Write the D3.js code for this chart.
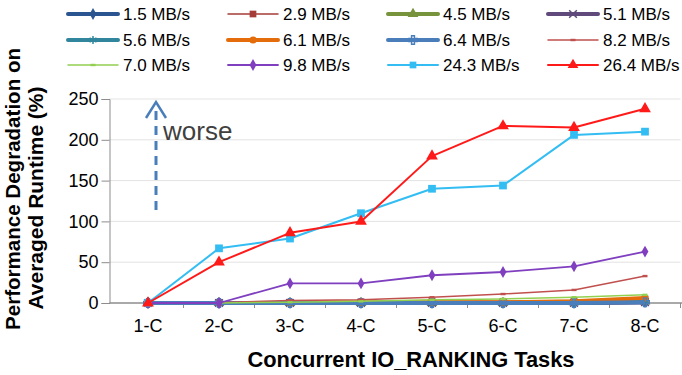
<!DOCTYPE html>
<html>
<head>
<meta charset="utf-8">
<script src="https://cdn.jsdelivr.net/npm/d3@7"></script>
<style>
  html, body { margin: 0; padding: 0; background: #fff; }
  svg { display: block; font-family: "Liberation Sans", Arial, sans-serif; }
</style>
</head>
<body>
<svg id="chart" width="682" height="375"></svg>
<script>
// Categories and tick labels
const categories = ["1-C", "2-C", "3-C", "4-C", "5-C", "6-C", "7-C", "8-C"];
const yTicks = [0, 50, 100, 150, 200, 250];

// Series names (IO bandwidth) and their degradation values (%)
const seriesNames = ["1.5 MB/s", "2.9 MB/s", "4.5 MB/s", "5.1 MB/s",
                     "5.6 MB/s", "6.1 MB/s", "6.4 MB/s", "8.2 MB/s",
                     "7.0 MB/s", "9.8 MB/s", "24.3 MB/s", "26.4 MB/s"];
const s1_5  = [0, 0, 0, 0, 0, 0, 0, 1];
const s2_9  = [0, 0.5, 1, 1.5, 2, 2, 3, 5];
const s4_5  = [0, 0, 0, 0, 0, 0, 1, 2];
const s5_1  = [0, 0, 0, 0, 0, 0, 0, 1];
const s5_6  = [0, 0, 0, 0, 0, 0, 0, 2];
const s6_1  = [0, 0, 0, 1, 1, 1, 2, 6];
const s6_4  = [0, 0, 0, 0, 0, 0, 0, 1];
const s8_2  = [0, 0.5, 3, 4, 7, 11, 16, 33];
const s7_0  = [0, 0, 1, 2, 4, 5, 7, 10];
const s9_8  = [0, 0, 24, 24, 34, 38, 45, 63];
const s24_3 = [0, 67, 79, 110, 140, 144, 206, 210];
const s26_4 = [0, 50, 86, 100, 180, 217, 215, 238];

const seriesValues = [s1_5, s2_9, s4_5, s5_1, s5_6, s6_1, s6_4, s8_2, s7_0, s9_8, s24_3, s26_4];

// Line styling per series
const colors  = ["#2a5590", "#a53c38", "#77933c", "#604a7b", "#31859c", "#e46c0a",
                 "#4a7ebb", "#c0504d", "#92d050", "#7f3fbf", "#33bdf2", "#ff1a1a"];
const widths  = [4, 1.5, 4, 4, 4, 4, 4, 1.5, 1.5, 1.8, 2, 2];
const markers = ["diamond", "square", "triangle", "cross", "star", "circle",
                 "plus", "dash", "dash", "diamond", "square", "triangle"];

const svg = d3.select("#chart");
const W = 682, H = 375;
const margin = { left: 112.5, right: 1.5, top: 99, bottom: 72 };

const x = d3.scaleBand().domain(categories).range([margin.left, W - margin.right]).padding(0);
const y = d3.scaleLinear().domain([0, 250]).range([H - margin.bottom, margin.top]);
const cx = c => x(c) + x.bandwidth() / 2;

// Gridlines
svg.append("g")
  .selectAll("line")
  .data(yTicks.filter(t => t > 0))
  .join("line")
  .attr("x1", margin.left - 3).attr("x2", W - margin.right)
  .attr("y1", d => y(d)).attr("y2", d => y(d))
  .attr("stroke", "#e3e3e3").attr("stroke-width", 1);

// Y axis
const yAxis = svg.append("g")
  .attr("transform", `translate(${margin.left - 3},0)`)
  .call(d3.axisLeft(y).tickValues(yTicks).tickSize(8).tickPadding(3));
yAxis.select(".domain").attr("stroke", "#8c8c8c");
yAxis.selectAll(".tick line").attr("stroke", "#8c8c8c");
yAxis.selectAll("text").attr("font-size", 18).attr("fill", "#000");

// X axis: labels centred in each band, tick marks on band edges
const xAxis = svg.append("g")
  .attr("transform", `translate(0,${y(0)})`)
  .call(d3.axisBottom(x).tickSize(0).tickPadding(16));
xAxis.select(".domain").attr("stroke", "#8c8c8c").attr("stroke-width", 1.5)
  .attr("d", `M${margin.left - 3},0H${W}`);
xAxis.selectAll("text").attr("font-size", 18).attr("fill", "#000");
xAxis.selectAll(".edge")
  .data(categories)
  .join("line")
  .attr("class", "edge")
  .attr("x1", d => x(d) + x.bandwidth())
  .attr("x2", d => x(d) + x.bandwidth())
  .attr("y1", 0).attr("y2", 5)
  .attr("stroke", "#8c8c8c");

// Marker shapes
const symbolFor = {
  diamond: d3.symbolDiamond, square: d3.symbolSquare, triangle: d3.symbolTriangle,
  cross: d3.symbolX, star: d3.symbolAsterisk, circle: d3.symbolCircle,
  plus: d3.symbolCross, dash: null
};
const sizeFor = { diamond: 40, square: 45, triangle: 50, cross: 40, star: 45, circle: 40, plus: 40 };
const isOpen = m => m === "cross" || m === "star" || m === "plus";

function drawMarker(sel, m, color, size) {
  if (m === "dash") {
    sel.append("rect").attr("x", -2.5).attr("y", -1.2).attr("width", 5).attr("height", 2.4)
      .attr("fill", color);
  } else {
    const shape = sel.append("path").attr("d", d3.symbol().type(symbolFor[m]).size(size)());
    if (isOpen(m)) shape.attr("fill", "none").attr("stroke", color).attr("stroke-width", 1.5);
    else shape.attr("fill", color);
  }
}

const line = d3.line().x((d, i) => cx(categories[i])).y(d => y(d));

const plot = svg.append("g");
seriesValues.forEach((vals, si) => {
  const g = plot.append("g");
  g.append("path")
    .attr("d", line(vals))
    .attr("fill", "none")
    .attr("stroke", colors[si])
    .attr("stroke-width", widths[si])
    .attr("stroke-linejoin", "round");
  const m = markers[si];
  const size = (si >= 10) ? 60 : sizeFor[m];
  g.selectAll("g.pt").data(vals).join("g")
    .attr("class", "pt")
    .attr("transform", (d, i) => `translate(${cx(categories[i])},${y(d)})`)
    .each(function () { drawMarker(d3.select(this), m, colors[si], size); });
});

// "worse" direction annotation
const arrowX = 156;
svg.append("line")
  .attr("x1", arrowX).attr("x2", arrowX)
  .attr("y1", 210).attr("y2", 106)
  .attr("stroke", "#4a7ebb").attr("stroke-width", 3)
  .attr("stroke-dasharray", "9,6");
svg.append("path")
  .attr("d", `M${arrowX - 10},${118} L${arrowX},${102} L${arrowX + 10},${118}`)
  .attr("fill", "none").attr("stroke", "#4a7ebb").attr("stroke-width", 2.5);
svg.append("text")
  .attr("x", 163).attr("y", 140)
  .attr("font-size", 26).attr("fill", "#404040")
  .text("worse");

// Axis titles
svg.append("text")
  .attr("x", 411).attr("y", 367)
  .attr("text-anchor", "middle")
  .attr("font-size", 22).attr("font-weight", "bold")
  .attr("textLength", 327).attr("lengthAdjust", "spacingAndGlyphs")
  .text("Concurrent IO_RANKING Tasks");
svg.append("text")
  .attr("transform", `translate(20,189) rotate(-90)`)
  .attr("text-anchor", "middle")
  .attr("font-size", 21).attr("font-weight", "bold")
  .attr("textLength", 282).attr("lengthAdjust", "spacingAndGlyphs")
  .text("Performance Degradation on");
svg.append("text")
  .attr("transform", `translate(43,198) rotate(-90)`)
  .attr("text-anchor", "middle")
  .attr("font-size", 21).attr("font-weight", "bold")
  .attr("textLength", 223).attr("lengthAdjust", "spacingAndGlyphs")
  .text("Averaged Runtime (%)");

// Legend: 4 columns x 3 rows
const legend = svg.append("g");
const colX = [68, 228, 388, 548];
const rowY = [14, 40, 65];
seriesNames.forEach((name, si) => {
  const gx = colX[si % 4], gy = rowY[Math.floor(si / 4)];
  const g = legend.append("g").attr("transform", `translate(${gx},${gy})`);
  g.append("line").attr("x1", 0).attr("x2", 50).attr("y1", 0).attr("y2", 0)
    .attr("stroke", colors[si]).attr("stroke-width", widths[si])
    .attr("stroke-linecap", "round");
  drawMarker(g.append("g").attr("transform", "translate(25,0)"), markers[si], colors[si], sizeFor[markers[si]]);
  g.append("text").attr("x", 55).attr("y", 6)
    .attr("font-size", 17).attr("fill", "#000")
    .text(name);
});
</script>
</body>
</html>
